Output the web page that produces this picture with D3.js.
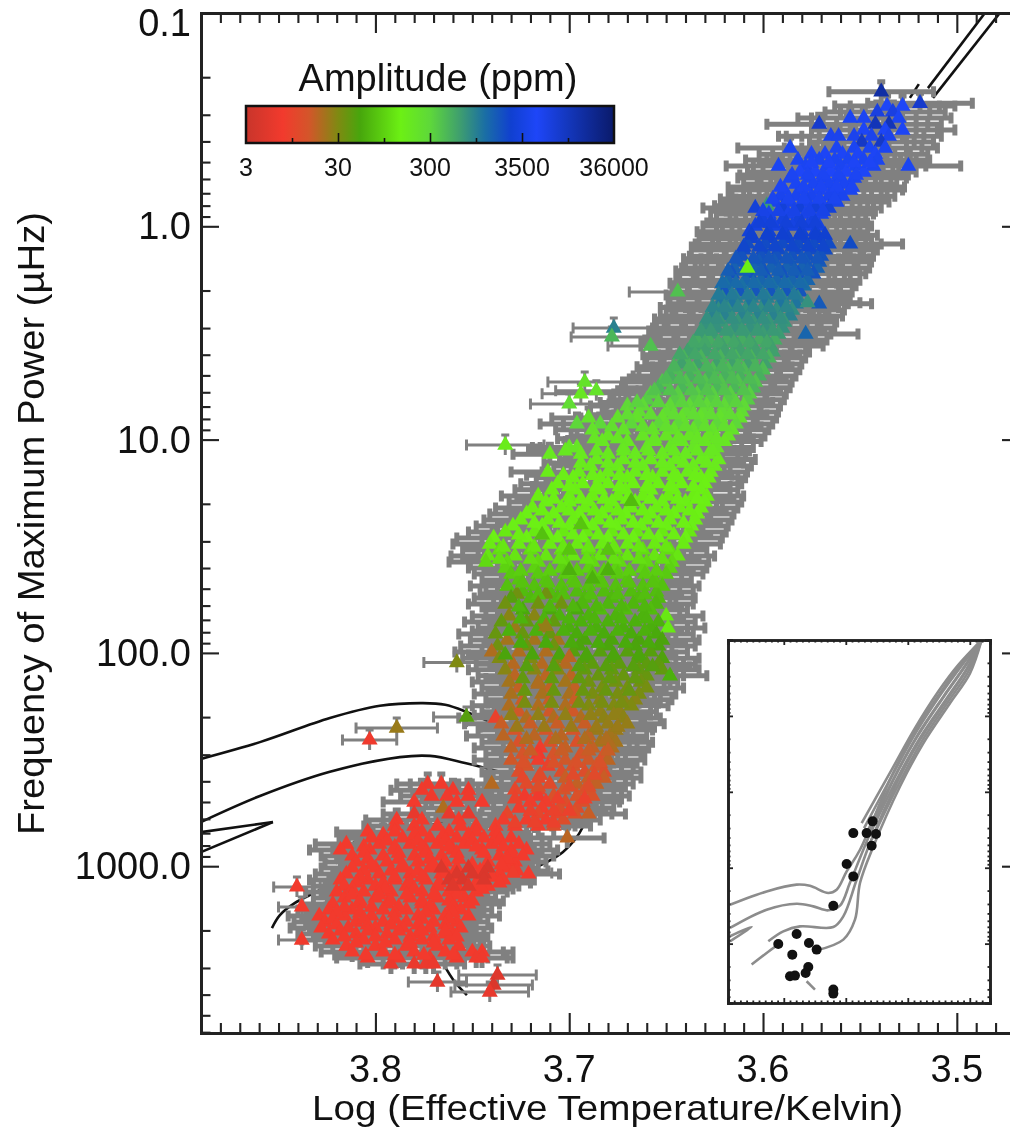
<!DOCTYPE html>
<html lang="en">

<head>
    <meta charset="UTF-8">
    <title>Frequency of maximum power vs effective temperature</title>
    <script src="https://d3js.org/d3.v7.min.js"></script>
    <style>
        body { margin: 0; background: #fff; }
        svg { display: block; font-family: "Liberation Sans", sans-serif; filter: blur(0.7px); }
    </style>
</head>

<body>
    <script>
        // rows: [numax in uHz, amplitude in ppm, [log Teff, ...]]
        const tipRows = [
            [.234, 16000, [3.539]],
            [.265, 9000, [3.519]],
            [.273, 5000, [3.536, 3.528]],
            [.291, 7000, [3.541, 3.533]],
            [.311, 4600, [3.555, 3.548, 3.530]],
            [.332, 9000, [3.571]],
            [.332, 12000, [3.542, 3.535]],
            [.354, 4800, [3.548, 3.537, 3.528]],
            [.378, 6000, [3.565, 3.561, 3.553, 3.544, 3.535]],
            [.403, 10000, [3.549, 3.539]],
            [.430, 4500, [3.586, 3.562, 3.553, 3.545, 3.537]],
            [.459, 4800, [3.575, 3.568, 3.559, 3.551, 3.542]],
            [.489, 4500, [3.582, 3.571, 3.563, 3.556, 3.548, 3.541]],
            [.522, 4500, [3.592, 3.578, 3.567, 3.560, 3.552, 3.543, 3.525]],
            [.557, 5000, [3.581, 3.573, 3.565, 3.557, 3.548]],
            [.594, 4500, [3.586, 3.576, 3.569, 3.561, 3.553]],
            [.634, 4500, [3.583, 3.574, 3.566, 3.558]],
            [.676, 4500, [3.589, 3.580, 3.571, 3.563, 3.555]],
            [.722, 4300, [3.591, 3.583, 3.575, 3.566, 3.559]],
            [.770, 4000, [3.594, 3.586, 3.577, 3.570, 3.562]],
            [.80, 700, [3.598]],
            [.821, 3000, [3.604, 3.590, 3.581, 3.573, 3.566]],
            [.876, 4000, [3.597, 3.587, 3.578, 3.570]],
            [.935, 3200, [3.600, 3.590, 3.582, 3.574]],
            [.998, 3500, [3.604, 3.594, 3.585, 3.577, 3.571]],
            [1.06, 3000, [3.607, 3.597, 3.589, 3.580, 3.573]],
            [1.14, 2500, [3.606, 3.596, 3.587, 3.579, 3.571]],
            [1.21, 2200, [3.608, 3.599, 3.590, 3.582, 3.574, 3.566, 3.555]],
            [1.29, 2200, [3.610, 3.600, 3.592, 3.583, 3.575, 3.568]],
            [1.38, 2000, [3.611, 3.601, 3.593, 3.585, 3.577, 3.570]],
            [1.47, 1800, [3.613, 3.602, 3.594, 3.586, 3.578, 3.571]],
            [1.57, 1600, [3.615, 3.605, 3.596, 3.588, 3.580, 3.572]],
            [1.67, 2000, [3.616, 3.607, 3.599, 3.590, 3.582, 3.574]],
            [1.79, 1500, [3.618, 3.609, 3.601, 3.593, 3.585, 3.577]],
            [1.90, 1300, [3.619, 3.611, 3.603, 3.595, 3.587, 3.579]],
            [2.03, 1900, [3.620, 3.612, 3.604, 3.596, 3.588, 3.581]],
            [2.17, 1000, [3.621, 3.614, 3.606, 3.598, 3.590, 3.582]],
            [2.31, 1200, [3.622, 3.616, 3.607, 3.599, 3.591, 3.583]],
            [2.31, 1800, [3.571]],
            [2.28, 800, [3.577]],
            [2.47, 850, [3.623, 3.618, 3.609, 3.601, 3.593, 3.585]],
            [2.63, 1000, [3.626, 3.620, 3.611, 3.603, 3.595, 3.586]],
            [2.81, 750, [3.628, 3.622, 3.613, 3.605, 3.597, 3.589]],
            [3.00, 800, [3.630, 3.624, 3.615, 3.607, 3.599, 3.590]],
            [3.20, 700, [3.631, 3.626, 3.617, 3.609, 3.600, 3.592]],
            [3.20, 1500, [3.578]],
            [3.41, 550, [3.634, 3.628, 3.619, 3.611, 3.602, 3.594]],
            [3.64, 650, [3.636, 3.630, 3.621, 3.613, 3.605, 3.596]]
        ];
        const tipFill = [
            [.505, 4800, [3.575, 3.566, 3.553, 3.545]],
            [.575, 4600, [3.585, 3.577, 3.569, 3.561, 3.552]],
            [.655, 4600, [3.591, 3.579, 3.570, 3.562, 3.554]],
            [.745, 4400, [3.595, 3.587, 3.579, 3.571, 3.563]],
            [.85, 3800, [3.600, 3.592, 3.584, 3.576, 3.569]],
            [.965, 3000, [3.602, 3.596, 3.588, 3.580, 3.573]],
            [1.10, 2600, [3.606, 3.598, 3.590, 3.581, 3.573, 3.568]],
            [1.25, 2400, [3.610, 3.602, 3.594, 3.585, 3.577, 3.569]],
            [1.42, 1900, [3.614, 3.605, 3.597, 3.588, 3.580, 3.572]],
            [1.62, 1700, [3.618, 3.610, 3.601, 3.592, 3.584, 3.577]],
            [1.85, 1400, [3.621, 3.614, 3.605, 3.597, 3.589, 3.581]],
            [2.10, 1100, [3.623, 3.616, 3.608, 3.600, 3.592, 3.584]],
            [2.40, 950, [3.626, 3.620, 3.613, 3.605, 3.597, 3.588]],
            [2.72, 820, [3.629, 3.624, 3.616, 3.608, 3.600, 3.591]],
            [3.10, 720, [3.632, 3.627, 3.619, 3.611, 3.603, 3.595]],
            [3.52, 600, [3.636, 3.630, 3.623, 3.615, 3.607, 3.598]],
            [1.57, 150, [3.608]]
        ];
        const greenRows = [
            [3.88, 650, [3.639, 3.630, 3.620, 3.612, 3.604, 3.595]],
            [4.14, 500, [3.641, 3.632, 3.622, 3.614, 3.606, 3.597]],
            [4.42, 650, [3.642, 3.634, 3.624, 3.616, 3.608, 3.599]],
            [4.71, 450, [3.645, 3.636, 3.626, 3.618, 3.610, 3.600]],
            [5.03, 520, [3.648, 3.638, 3.628, 3.620, 3.612, 3.602]],
            [5.37, 400, [3.652, 3.640, 3.630, 3.622, 3.613, 3.604]],
            [5.72, 480, [3.654, 3.642, 3.632, 3.624, 3.615, 3.605]],
            [6.11, 340, [3.658, 3.644, 3.634, 3.626, 3.617, 3.607]],
            [6.51, 360, [3.660, 3.646, 3.636, 3.628, 3.618, 3.608]],
            [6.95, 280, [3.670, 3.662, 3.648, 3.638, 3.629, 3.620, 3.610]],
            [7.42, 260, [3.664, 3.650, 3.640, 3.631, 3.621, 3.611]],
            [7.91, 230, [3.690, 3.675, 3.665, 3.652, 3.642, 3.632, 3.622, 3.612]],
            [8.44, 300, [3.696, 3.684, 3.668, 3.654, 3.644, 3.634, 3.624, 3.614]],
            [9.0, 220, [3.688, 3.672, 3.657, 3.646, 3.636, 3.626, 3.616]],
            [9.61, 200, [3.680, 3.662, 3.650, 3.638, 3.628, 3.618]],
            [10.2, 190, [3.683, 3.670, 3.656, 3.642, 3.630, 3.620]],
            [10.9, 200, [3.700, 3.696, 3.672, 3.660, 3.648, 3.636, 3.624]],
            [11.7, 180, [3.710, 3.694, 3.680, 3.666, 3.652, 3.640, 3.628]],
            [12.4, 170, [3.686, 3.672, 3.658, 3.645, 3.632, 3.623]],
            [13.3, 170, [3.689, 3.675, 3.662, 3.648, 3.636, 3.625]],
            [14.2, 160, [3.711, 3.695, 3.680, 3.666, 3.652, 3.639, 3.627]],
            [15.1, 150, [3.698, 3.684, 3.670, 3.657, 3.644, 3.632, 3.628]],
            [16.1, 145, [3.706, 3.693, 3.680, 3.667, 3.654, 3.642, 3.630]],
            [17.2, 150, [3.709, 3.697, 3.684, 3.671, 3.658, 3.646, 3.632]],
            [18.4, 140, [3.716, 3.700, 3.688, 3.675, 3.662, 3.649, 3.636, 3.629]],
            [19.6, 150, [3.712, 3.700, 3.690, 3.678, 3.666, 3.652, 3.640, 3.630]],
            [20.9, 140, [3.719, 3.704, 3.692, 3.680, 3.668, 3.655, 3.643, 3.632]],
            [22.3, 145, [3.722, 3.708, 3.695, 3.683, 3.671, 3.658, 3.646, 3.634]],
            [23.8, 140, [3.725, 3.711, 3.698, 3.685, 3.673, 3.660, 3.648, 3.635]],
            [25.4, 150, [3.729, 3.714, 3.700, 3.688, 3.676, 3.663, 3.650, 3.637]],
            [27.1, 130, [3.733, 3.718, 3.703, 3.691, 3.678, 3.665, 3.652, 3.638]],
            [28.9, 145, [3.739, 3.722, 3.706, 3.693, 3.680, 3.667, 3.654, 3.640]],
            [30.9, 135, [3.741, 3.726, 3.710, 3.696, 3.683, 3.670, 3.656, 3.641]],
            [32.9, 110, [3.736, 3.720, 3.704, 3.690, 3.676, 3.662, 3.648]],
            [35.1, 125, [3.742, 3.728, 3.712, 3.698, 3.684, 3.670, 3.656, 3.644]],
            [37.5, 105, [3.743, 3.732, 3.716, 3.702, 3.688, 3.674, 3.660, 3.647]],
            [40.0, 95, [3.733, 3.718, 3.704, 3.690, 3.676, 3.662, 3.648]],
            [42.7, 85, [3.730, 3.716, 3.702, 3.688, 3.675, 3.661, 3.650]],
            [45.5, 80, [3.726, 3.712, 3.698, 3.684, 3.670, 3.656]],
            [48.6, 75, [3.732, 3.718, 3.704, 3.690, 3.676, 3.662, 3.652]],
            [51.8, 70, [3.724, 3.710, 3.696, 3.682, 3.668, 3.655]],
            [53, 35, [3.727, 3.712]],
            [55.3, 68, [3.720, 3.706, 3.692, 3.678, 3.664, 3.654]],
            [55.3, 45, [3.730]]
        ];
        const greenFill = [
            [4.0, 600, [3.643, 3.635, 3.625, 3.616, 3.608, 3.600]],
            [4.56, 500, [3.646, 3.638, 3.629, 3.621, 3.613, 3.604]],
            [5.2, 450, [3.650, 3.643, 3.633, 3.625, 3.616, 3.607]],
            [5.9, 400, [3.656, 3.648, 3.637, 3.629, 3.620, 3.610]],
            [6.7, 320, [3.665, 3.654, 3.642, 3.633, 3.624, 3.614]],
            [7.65, 260, [3.670, 3.658, 3.646, 3.636, 3.627, 3.617]],
            [8.7, 240, [3.678, 3.662, 3.650, 3.640, 3.630, 3.620]],
            [9.9, 200, [3.687, 3.675, 3.656, 3.644, 3.634, 3.624]],
            [11.3, 185, [3.702, 3.686, 3.672, 3.659, 3.646, 3.634, 3.626]],
            [12.9, 170, [3.694, 3.680, 3.666, 3.652, 3.641, 3.629]],
            [14.7, 155, [3.703, 3.688, 3.674, 3.660, 3.646, 3.635]],
            [16.6, 145, [3.700, 3.686, 3.674, 3.660, 3.648, 3.636]],
            [19.0, 145, [3.708, 3.694, 3.682, 3.670, 3.658, 3.644, 3.634]],
            [21.6, 140, [3.714, 3.700, 3.687, 3.675, 3.662, 3.650, 3.638]],
            [24.6, 145, [3.718, 3.705, 3.692, 3.679, 3.667, 3.654, 3.641]],
            [28, 140, [3.726, 3.711, 3.698, 3.685, 3.672, 3.659, 3.646]],
            [31.9, 125, [3.734, 3.718, 3.703, 3.690, 3.677, 3.664, 3.650]],
            [36.3, 115, [3.736, 3.720, 3.705, 3.691, 3.677, 3.664, 3.652]],
            [41.3, 90, [3.725, 3.710, 3.696, 3.682, 3.669, 3.655]],
            [47, 78, [3.724, 3.711, 3.697, 3.683, 3.669, 3.657]],
            [53.5, 72, [3.716, 3.703, 3.689, 3.675, 3.661]],
            [19.5, 70, [3.668]], [25, 80, [3.694]], [28, 75, [3.714]],
            [33, 80, [3.680, 3.700]], [41, 60, [3.700, 3.680]], [45, 60, [3.688]]
        ];
        const lowerRows = [
            [59.0, 35, [3.733, 3.716, 3.704]],
            [59.0, 65, [3.693, 3.680, 3.667, 3.655]],
            [62.9, 55, [3.724, 3.710, 3.696]],
            [62.9, 70, [3.684, 3.671, 3.658]],
            [67.1, 28, [3.731, 3.718]],
            [67.1, 62, [3.705, 3.690, 3.676, 3.662]],
            [67.1, 130, [3.650]],
            [71.6, 40, [3.735, 3.722, 3.708]],
            [71.6, 60, [3.694, 3.680, 3.666, 3.654]],
            [76.4, 24, [3.728, 3.715]],
            [76.4, 58, [3.700, 3.686, 3.672, 3.658]],
            [76.4, 130, [3.649]],
            [81.5, 38, [3.738, 3.724, 3.710]],
            [81.5, 55, [3.696, 3.682, 3.668, 3.655]],
            [87, 22, [3.732, 3.718, 3.706]],
            [87, 50, [3.692, 3.678, 3.664, 3.652]],
            [92.8, 35, [3.737, 3.722, 3.708]],
            [92.8, 50, [3.695, 3.680, 3.666, 3.654]],
            [99, 20, [3.740, 3.726, 3.712]],
            [99, 45, [3.698, 3.684, 3.670, 3.658]],
            [106, 30, [3.736, 3.720, 3.706]],
            [106, 48, [3.692, 3.678, 3.664, 3.652]],
            [113, 19, [3.729, 3.714, 3.702]],
            [113, 42, [3.688, 3.674, 3.660, 3.654]],
            [120, 28, [3.733, 3.718, 3.706]],
            [120, 40, [3.692, 3.678, 3.664, 3.652]],
            [128, 18, [3.728, 3.712, 3.699]],
            [128, 38, [3.685, 3.672, 3.660]],
            [128, 60, [3.648]],
            [137, 22, [3.731, 3.716, 3.702]],
            [137, 35, [3.690, 3.676, 3.663]],
            [146, 17, [3.726, 3.710, 3.697]],
            [146, 33, [3.683, 3.670, 3.660]],
            [156, 21, [3.730, 3.714, 3.700]],
            [156, 32, [3.688, 3.675, 3.664]],
            [166, 16, [3.724, 3.710, 3.697]],
            [166, 28, [3.684, 3.672, 3.666]],
            [177, 20, [3.731, 3.716, 3.702]],
            [177, 30, [3.690, 3.677, 3.668]],
            [189, 15, [3.726, 3.710, 3.698]],
            [189, 26, [3.684, 3.674]],
            [202, 9, [3.738]],
            [202, 20, [3.722, 3.708, 3.694]],
            [202, 27, [3.682, 3.672]],
            [215, 16, [3.735, 3.720, 3.706, 3.692]],
            [215, 25, [3.680, 3.670]],
            [230, 14, [3.728, 3.712, 3.698]],
            [230, 24, [3.686, 3.676]],
            [245, 18, [3.734, 3.718, 3.704, 3.690]],
            [245, 22, [3.679]],
            [262, 13, [3.726, 3.710, 3.696]],
            [262, 22, [3.684, 3.676]],
            [279, 17, [3.730, 3.702, 3.688]],
            [279, 20, [3.678]],
            [279, 8, [3.715]],
            [298, 14, [3.724, 3.708, 3.694, 3.682]],
            [298, 7, [3.716]],
            [318, 15, [3.730, 3.702, 3.690]],
            [318, 18, [3.680]],
            [318, 8, [3.716]],
            [339, 14, [3.722, 3.698, 3.686]],
            [339, 9, [3.711]],
            [362, 12, [3.726, 3.704, 3.692, 3.682]],
            [386, 10, [3.724, 3.716]],
            [386, 16, [3.702, 3.690, 3.682]],
            [412, 19, [3.740]],
            [412, 11, [3.722, 3.710]],
            [412, 17, [3.696, 3.686]],
            [439, 10, [3.728, 3.716]],
            [439, 14, [3.703, 3.692]],
            [469, 7, [3.723, 3.716]],
            [469, 13, [3.708, 3.696, 3.688]],
            [500, 8, [3.720, 3.712]],
            [500, 12, [3.702, 3.693]],
            [534, 8, [3.726, 3.714]],
            [534, 12, [3.705, 3.696]],
            [569, 10, [3.732, 3.716, 3.706]],
            [569, 13, [3.697]],
            [569, 16, [3.690]],
            [607, 8, [3.734, 3.722, 3.712]],
            [607, 12, [3.703]],
            [648, 8, [3.738, 3.728, 3.716]],
            [648, 12, [3.708]],
            [737, 18, [3.701]]
        ];
        const lowerFill = [
            [60.9, 65, [3.726, 3.710, 3.698, 3.686, 3.673, 3.661]],
            [69.3, 62, [3.725, 3.713, 3.700, 3.687, 3.673, 3.660]],
            [79, 60, [3.731, 3.717, 3.703, 3.689, 3.675, 3.661]],
            [89.9, 55, [3.725, 3.712, 3.699, 3.685, 3.671, 3.659]],
            [102, 50, [3.733, 3.719, 3.705, 3.691, 3.677, 3.664]],
            [116, 45, [3.722, 3.708, 3.695, 3.681, 3.667, 3.657]],
            [132, 40, [3.724, 3.709, 3.695, 3.679, 3.666]],
            [151, 38, [3.723, 3.708, 3.693, 3.681, 3.669]],
            [172, 32, [3.723, 3.709, 3.695, 3.683, 3.673]],
            [196, 26, [3.730, 3.716, 3.702, 3.689, 3.677]],
            [223, 24, [3.727, 3.713, 3.699, 3.686, 3.675]],
            [254, 20, [3.722, 3.707, 3.692, 3.681]],
            [288, 16, [3.720, 3.704, 3.690, 3.680]],
            [329, 13, [3.724, 3.708, 3.696, 3.684]],
            [374, 11, [3.715, 3.698, 3.687]],
            [425, 12, [3.716, 3.700, 3.690]],
            [484, 9, [3.728, 3.706, 3.692]],
            [551, 9, [3.720, 3.708, 3.700]],
            [627, 9, [3.728, 3.718, 3.708]],
            [105, 18, [3.700]], [140, 20, [3.716]], [75, 25, [3.712]]
        ];
        const clumpRows = [
            [412, 7, [3.773, 3.766]],
            [440, 7, [3.776, 3.760, 3.752]],
            [469, 7, [3.771, 3.763, 3.752]],
            [500, 7.5, [3.780, 3.758, 3.745]],
            [534, 20, [3.765]],
            [569, 6, [3.780, 3.752, 3.762]],
            [607, 7.5, [3.789, 3.757, 3.776]],
            [648, 7.5, [3.790, 3.780, 3.768, 3.756, 3.748]],
            [691, 7.5, [3.804, 3.790, 3.776, 3.762, 3.748, 3.738]],
            [737, 7.5, [3.802, 3.786, 3.772, 3.758, 3.744, 3.730]],
            [787, 7.5, [3.815, 3.798, 3.782, 3.768, 3.754, 3.740, 3.726]],
            [839, 7.5, [3.818, 3.803, 3.790, 3.774, 3.760, 3.745, 3.730, 3.722]],
            [895, 7.5, [3.812, 3.796, 3.780, 3.766, 3.736, 3.724]],
            [955, 7.5, [3.810, 3.794, 3.778, 3.764, 3.742, 3.728]],
            [1019, 7.5, [3.812, 3.800, 3.786, 3.772, 3.758, 3.732]],
            [1087, 7.5, [3.815, 3.798, 3.782, 3.766, 3.736, 3.721]],
            [1160, 7.5, [3.818, 3.804, 3.790, 3.774, 3.734]],
            [1238, 7.5, [3.816, 3.800, 3.784, 3.768, 3.742]],
            [1320, 7.5, [3.820, 3.806, 3.792, 3.776, 3.762, 3.748]],
            [1409, 7.5, [3.816, 3.800, 3.782, 3.768, 3.754]],
            [1503, 7.5, [3.822, 3.808, 3.794, 3.776, 3.760, 3.752]],
            [1604, 7.5, [3.824, 3.812, 3.796, 3.784, 3.770, 3.756]],
            [1711, 7.5, [3.829, 3.816, 3.802, 3.778, 3.764, 3.752]],
            [1826, 7.5, [3.826, 3.810, 3.796, 3.784, 3.770, 3.758]],
            [1948, 7.5, [3.828, 3.814, 3.800, 3.786, 3.772, 3.756]],
            [2078, 7.5, [3.824, 3.810, 3.794, 3.778, 3.764, 3.760]],
            [2217, 7.5, [3.822, 3.806, 3.790, 3.776, 3.762]],
            [2366, 7.5, [3.815, 3.800, 3.784, 3.768, 3.757]],
            [2524, 7.5, [3.812, 3.796, 3.780, 3.764, 3.750, 3.745]],
            [2693, 7, [3.804, 3.788, 3.772, 3.758, 3.748, 3.745]],
            [2873, 6.5, [3.792, 3.780, 3.774, 3.770]]
        ];
        const clumpFill = [
            [715, 7.5, [3.796, 3.780, 3.765, 3.752, 3.737]],
            [760, 7.5, [3.794, 3.778, 3.764, 3.750, 3.736]],
            [812, 7.5, [3.806, 3.790, 3.776, 3.762, 3.748, 3.734]],
            [868, 7.5, [3.806, 3.788, 3.774, 3.758, 3.744, 3.730]],
            [925, 7.5, [3.804, 3.788, 3.772, 3.757, 3.732]],
            [985, 7.5, [3.802, 3.786, 3.770, 3.750, 3.735]],
            [1052, 7.5, [3.806, 3.792, 3.778, 3.764, 3.746, 3.727]],
            [1125, 7.5, [3.808, 3.790, 3.776, 3.760, 3.740]],
            [1198, 7.5, [3.810, 3.796, 3.782, 3.767, 3.748, 3.736]],
            [1280, 7.5, [3.812, 3.795, 3.780, 3.757, 3.745]],
            [1364, 7.5, [3.812, 3.798, 3.784, 3.770, 3.758]],
            [1455, 7.5, [3.808, 3.792, 3.776, 3.762, 3.750]],
            [1555, 7.5, [3.816, 3.802, 3.788, 3.772, 3.760]],
            [1655, 7.5, [3.820, 3.808, 3.790, 3.774, 3.760]],
            [1768, 7.5, [3.822, 3.806, 3.790, 3.776, 3.762]],
            [1885, 7.5, [3.820, 3.804, 3.792, 3.778, 3.764]],
            [2012, 7.5, [3.818, 3.804, 3.788, 3.776, 3.764]],
            [2145, 7.5, [3.816, 3.800, 3.782, 3.770, 3.758]],
            [2290, 7.5, [3.810, 3.795, 3.782, 3.770]],
            [2608, 7.5, [3.805, 3.790, 3.775, 3.760]],
            [1019, 4.5, [3.766, 3.752, 3.742]],
            [1087, 4.5, [3.758, 3.750, 3.744]],
            [1160, 4.5, [3.762, 3.755, 3.744]],
            [1238, 5, [3.760, 3.752]]
        ];
        // half length of the temperature error bars for each group of rows, log Teff
        const tipErr = 0.027, greenErr = 0.019, lowerErr = 0.019, clumpErr = 0.016;
        // stragglers: [log Teff, numax, amplitude, error]
        const stragglers = [
            [3.677, 3.00, 1000, .021], [3.678, 3.30, 480, .021], [3.658, 3.64, 420, .022],
            [3.644, 2.03, 420, .025], [3.692, 5.37, 220, .019], [3.686, 5.9, 220, .021],
            [3.694, 6.1, 190, .02], [3.700, 6.8, 260, .02], [3.733, 10.6, 160, .02],
            [3.758, 111, 30, .017], [3.753, 200, 45, .017], [3.789, 225, 24, .021],
            [3.803, 256, 7, .014], [3.8405, 1250, 7.5, .012], [3.838, 1552, 7.5, .012],
            [3.838, 2218, 7, .012], [3.768, 3490, 5.5, .015], [3.737, 3236, 5, .02],
            [3.739, 3606, 4.5, .02], [3.741, 3890, 6, .02], [3.729, 1076, 8, .02]
        ];
        const tempMajor = [3.8, 3.7, 3.6, 3.5];
        const freqMajor = [0.1, 1, 10, 100, 1000];

        // evolutionary tracks on the main panel: [log Teff, numax]
        const mainTracks = [
            [[3.890, 314], [3.8596, 262], [3.8235, 202], [3.7977, 177], [3.7755, 172], [3.764, 175], [3.753, 189], [3.741, 211]],
            [[3.890, 621], [3.8596, 469], [3.8235, 361], [3.7874, 308], [3.7718, 304], [3.7538, 328], [3.7358, 361]],
            [[3.890, 692], [3.8529, 621]],
            [[3.8529, 621], [3.890, 859]],
            [[3.8534, 1950], [3.8493, 1694], [3.8415, 1486], [3.827, 1265], [3.8116, 998], [3.7874, 714], [3.7548, 607], [3.732, 627]],
            [[3.827, 935], [3.8198, 966]],
            [[3.8158, 822], [3.809, 753]],
            [[3.7239, 1076], [3.7032, 857], [3.693, 655], [3.6878, 407], [3.6857, 318]],
            [[3.7652, 2845], [3.759, 3491], [3.7528, 4020]],
            [[3.5242, .25], [3.5196, .2155]],
            [[3.5149, .225], [3.4855, .1]],
            [[3.5123, .25], [3.4778, .1]]
        ];
        // same tracks as drawn in the inset, the whole way up the giant branch
        const insetTracks = [
            [[3.8868, 307], [3.8277, 205], [3.7793, 167], [3.7578, 173], [3.7282, 215], [3.7148, 195], [3.6986, 112], [3.6771, 58], [3.6288, 6.95], [3.5911, 1.69], [3.5481, .503], [3.5158, .213], [3.4809, .1]],
            [[3.8868, 622], [3.8277, 357], [3.7793, 298], [3.7524, 323], [3.7282, 364], [3.7094, 316], [3.6933, 158], [3.6717, 58], [3.6234, 6.95], [3.5857, 1.87], [3.5427, .557], [3.5105, .236], [3.4809, .1]],
            [[3.825, 931], [3.8008, 689], [3.7739, 592], [3.7202, 604], [3.704, 437], [3.6825, 144], [3.661, 47.3], [3.618, 7.7], [3.5804, 2.07], [3.5374, .617], [3.505, .248], [3.4809, .1]],
            [[3.8519, 1888], [3.8169, 1140], [3.8088, 1030]],
            [[3.747, 1225], [3.704, 885], [3.6852, 483], [3.6771, 159], [3.6556, 52.5], [3.6126, 8.5], [3.575, 2.29], [3.532, .68], [3.4997, .275], [3.4809, .1]],
            [[3.6744, 25.8], [3.6261, 5.14], [3.5884, 1.45], [3.5508, .478], [3.5185, .213], [3.4809, .1]],
            [[3.6664, 35], [3.6207, 6.28], [3.583, 1.78], [3.54, .53], [3.5078, .224], [3.4809, .1]],
            [[3.6583, 42.8], [3.6153, 8.09], [3.5777, 2.18], [3.5347, .647], [3.5024, .261], [3.4809, .1]],
            [[3.6705, 30], [3.6234, 5.7], [3.5858, 1.6], [3.5454, .5], [3.5132, .218], [3.4809, .1]],
            [[3.6625, 38], [3.618, 6.9], [3.5804, 1.95], [3.5374, .59], [3.505, .24], [3.4809, .1]],
            [[3.8868, 800], [3.8519, 603], [3.8868, 931]],
            [[3.7632, 3126], [3.7497, 4027]]
        ];
        const insetStars = [
            [3.6567, 24.5], [3.6879, 35], [3.6664, 35], [3.6513, 36], [3.6583, 51.3], [3.6986, 89.5], [3.6879, 130],
            [3.7201, 316], [3.7793, 746], [3.8089, 1009], [3.7594, 979], [3.747, 1199], [3.7863, 1396], [3.7605, 2028],
            [3.7648, 2432], [3.79, 2692], [3.782, 2636], [3.7201, 4027], [3.7201, 4550]
        ];

        const ampLabels = [3, 30, 300, 3500, 36000];
        const barStops = [
            [0, "#c8352b"], [.1, "#f23a2d"], [.17, "#d4552a"], [.25, "#7f8a12"], [.31, "#47a60c"], [.42, "#6cf014"],
            [.5, "#5ed83a"], [.58, "#3f9f6e"], [.65, "#1a6ea5"], [.72, "#1040d0"], [.79, "#1e46f8"], [.87, "#1438c0"], [1, "#0a1a6a"]
        ];

        const width = 1010, height = 1129;
        const svg = d3.select("body").append("svg").attr("width", width).attr("height", height);

        const x = d3.scaleLinear().domain([3.89, 3.4674]).range([201, 1020]);
        const y = d3.scaleLog().domain([0.1, 6053]).range([13, 1033]);
        const insetX = d3.scaleLinear().domain(x.domain()).range([728, 990]);
        const insetY = d3.scaleLog().domain(y.domain()).range([640, 1003]);

        const ampPos = d3.scaleLog().domain(ampLabels).range([0, .25, .5, .75, 1]);
        const ampColor = d3.scaleLinear().domain(barStops.map(d => d[0])).range(barStops.map(d => d[1])).clamp(true);

        const defs = svg.append("defs");
        defs.append("clipPath").attr("id", "plot").append("rect")
            .attr("x", 201).attr("y", 13).attr("width", 819).attr("height", 1020);
        defs.append("clipPath").attr("id", "insetPlot").append("rect")
            .attr("x", 728).attr("y", 640).attr("width", 262).attr("height", 363);
        const grad = defs.append("linearGradient").attr("id", "ampBar");
        barStops.forEach(d => grad.append("stop").attr("offset", d[0]).attr("stop-color", d[1]));

        // black tracks go under everything
        const mainLine = d3.line().x(d => x(d[0])).y(d => y(d[1])).curve(d3.curveCatmullRom);
        svg.append("g").attr("clip-path", "url(#plot)").selectAll("path").data(mainTracks).join("path")
            .attr("d", mainLine).attr("fill", "none").attr("stroke", "#111").attr("stroke-width", 2.6);

        // flatten rows into stars
        const stars = [];
        [[tipRows, tipErr], [tipFill, tipErr], [greenRows, greenErr], [greenFill, greenErr],
         [lowerRows, lowerErr], [lowerFill, lowerErr], [clumpRows, clumpErr], [clumpFill, clumpErr]].forEach(([rows, err]) => {
            rows.forEach(([nu, amp, temps]) => temps.forEach(t => stars.push({ t, nu, amp, err })));
        });
        const lone = stragglers.map(([t, nu, amp, err]) => ({ t, nu, amp, err }));

        // error bars, thick where the cloud is dense so it merges as in the original
        function errorBars(list, weight) {
            const bars = d3.path();
            list.forEach(d => {
                const px = x(d.t), py = y(d.nu), x0 = x(d.t + d.err), x1 = x(d.t - d.err);
                bars.moveTo(x0, py); bars.lineTo(x1, py);
                bars.moveTo(x0, py - 5.5); bars.lineTo(x0, py + 5.5);
                bars.moveTo(x1, py - 5.5); bars.lineTo(x1, py + 5.5);
                bars.moveTo(px, py - 10); bars.lineTo(px, py + 10);
                bars.moveTo(px - 4, py - 10); bars.lineTo(px + 4, py - 10);
            });
            svg.append("path").attr("d", bars.toString()).attr("fill", "none").attr("stroke", "#808080").attr("stroke-width", weight);
        }
        errorBars(stars, 5);
        errorBars(lone, 3);

        const triangle = d3.symbol(d3.symbolTriangle, 112);
        svg.append("g").selectAll("path").data(stars.concat(lone)).join("path")
            .attr("d", triangle)
            .attr("transform", d => `translate(${x(d.t)},${y(d.nu)})`)
            .attr("fill", d => ampColor(ampPos(d.amp)));

        // ticks on all four sides
        const tempMinor = d3.range(348, 389).map(d => d / 100).filter(d => !tempMajor.includes(d));
        const freqMinor = y.ticks().filter(d => !freqMajor.includes(d));
        function frame(sx, sy, xMaj, xMin, yMaj, yMin, weight) {
            const g = svg.append("g");
            const [l, r] = sx.range(), [t, b] = sy.range();
            const side = (axis, at, scale, values, size) => {
                g.append("g").attr("transform", at)
                    .call(axis(scale).tickValues(values).tickSize(-size).tickFormat(""))
                    .call(s => s.selectAll("line").attr("stroke", "#222").attr("stroke-width", weight * .7))
                    .call(s => s.select(".domain").attr("stroke", "#222").attr("stroke-width", weight));
            };
            side(d3.axisBottom, `translate(0,${b})`, sx, tempMinor, xMin);
            side(d3.axisBottom, `translate(0,${b})`, sx, tempMajor, xMaj);
            side(d3.axisTop, `translate(0,${t})`, sx, tempMinor, xMin);
            side(d3.axisTop, `translate(0,${t})`, sx, tempMajor, xMaj);
            side(d3.axisLeft, `translate(${l},0)`, sy, freqMinor, yMin);
            side(d3.axisLeft, `translate(${l},0)`, sy, freqMajor, yMaj);
            side(d3.axisRight, `translate(${r},0)`, sy, freqMinor, yMin);
            side(d3.axisRight, `translate(${r},0)`, sy, freqMajor, yMaj);
        }
        frame(x, y, 20, 10, 18, 9.5, 3);

        // tick labels
        svg.append("g").selectAll("text").data(tempMajor).join("text")
            .attr("x", d => x(d)).attr("y", 1082).attr("text-anchor", "middle")
            .attr("font-size", 38).attr("fill", "#111").text(d => d.toFixed(1));
        svg.append("g").selectAll("text").data(freqMajor).join("text")
            .attr("x", 191).attr("y", d => d === 0.1 ? 36 : y(d) + 13).attr("text-anchor", "end")
            .attr("font-size", 38).attr("fill", "#111").text(d => d.toFixed(1));

        svg.append("text").attr("x", 312).attr("y", 1120)
            .attr("textLength", 591).attr("lengthAdjust", "spacingAndGlyphs")
            .attr("font-size", 35).attr("fill", "#111").text("Log (Effective Temperature/Kelvin)");
        svg.append("text").attr("transform", "translate(44,835) rotate(-90)")
            .attr("textLength", 623).attr("lengthAdjust", "spacingAndGlyphs")
            .attr("font-size", 36).attr("fill", "#111").text("Frequency of Maximum Power (\u00b5Hz)");

        // amplitude colour bar
        const barX = d3.scaleLinear().domain([0, 1]).range([246, 614]);
        svg.append("rect").attr("x", 246).attr("y", 106).attr("width", 368).attr("height", 37)
            .attr("fill", "url(#ampBar)").attr("stroke", "#111").attr("stroke-width", 2.5);
        const barG = svg.append("g").attr("transform", "translate(0,143)");
        barG.append("g").call(d3.axisTop(barX).tickValues([.125, .375, .625, .875]).tickSize(5).tickFormat(""))
            .call(s => s.select(".domain").remove()).selectAll("line").attr("stroke", "#111").attr("stroke-width", 1.6);
        barG.append("g").call(d3.axisTop(barX).tickValues([.25, .5, .75]).tickSize(10).tickFormat(""))
            .call(s => s.select(".domain").remove()).selectAll("line").attr("stroke", "#111").attr("stroke-width", 1.6);
        svg.append("g").selectAll("text").data(ampLabels).join("text")
            .attr("x", d => barX(ampPos(d))).attr("y", 176).attr("text-anchor", "middle")
            .attr("font-size", 25).attr("fill", "#111").text(d => d);
        svg.append("text").attr("x", 438).attr("y", 91).attr("text-anchor", "middle")
            .attr("font-size", 38).attr("fill", "#111").text("Amplitude (ppm)");

        // inset
        svg.append("rect").attr("x", 728).attr("y", 640).attr("width", 262).attr("height", 363).attr("fill", "#fff");
        const insetLine = d3.line().x(d => insetX(d[0])).y(d => insetY(d[1])).curve(d3.curveCatmullRom);
        svg.append("g").attr("clip-path", "url(#insetPlot)").selectAll("path").data(insetTracks).join("path")
            .attr("d", insetLine).attr("fill", "none").attr("stroke", "#8c8c8c").attr("stroke-width", 2.6);
        svg.append("g").selectAll("circle").data(insetStars).join("circle")
            .attr("cx", d => insetX(d[0])).attr("cy", d => insetY(d[1])).attr("r", 5).attr("fill", "#111");
        frame(insetX, insetY, 5, 2.5, 5, 2.5, 2.6);
    </script>
</body>

</html>
